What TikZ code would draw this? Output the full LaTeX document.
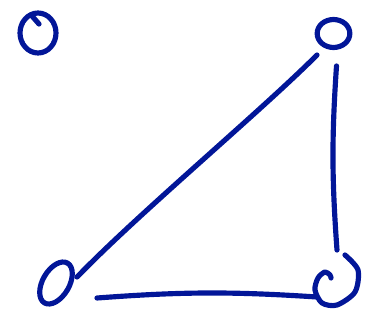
\documentclass[tikz,border=0pt]{standalone}
\usepackage{tikz}
\usetikzlibrary{shapes.geometric}
\definecolor{ink}{RGB}{2,22,152}

\begin{document}
\begin{tikzpicture}[x=0.03cm, y=0.03cm, line cap=round, line join=round,
    pen/.style={draw=ink, line width=4.4pt},
    every node/.style={ellipse, pen, inner sep=0pt, outer sep=0pt}]
    \useasboundingbox (0,0) rectangle (366,327);
    \node[minimum width=1.08cm, minimum height=1.2cm] (p1) at (38,294) {};
    \node[minimum width=0.98cm, minimum height=0.84cm] (p2) at (333.5,293.5) {};
    \node[minimum width=1.38cm, minimum height=0.8cm, rotate=60] (p3) at (56,44) {};
    \node[draw=none, minimum size=1.2cm] (p4) at (336,46) {};
    \draw[pen] ([shift={(-6,17)}]p1.center) -- ([shift={(1,9)}]p1.center);
    \draw[pen, shift={(p4.center)}] plot[smooth] coordinates {(9,26) (22,11) (19,-11) (1,-24) (-14,-22) (-21,-9) (-18,3) (-11,9) (-6,6) (-5,3)};
    \draw[pen] ([shift={(-16.5,-21.5)}]p2.center) .. controls +(-57,-57) and +(63,65) .. ([shift={(21,6)}]p3.center);
    \draw[pen] ([shift={(3,-32.5)}]p2.center) to[bend right=4] ([shift={(1,31)}]p4.center);
    \draw[pen] ([shift={(41,-15)}]p3.center) to[bend left=4] ([shift={(-19,-16)}]p4.center);
\end{tikzpicture}
\end{document}
